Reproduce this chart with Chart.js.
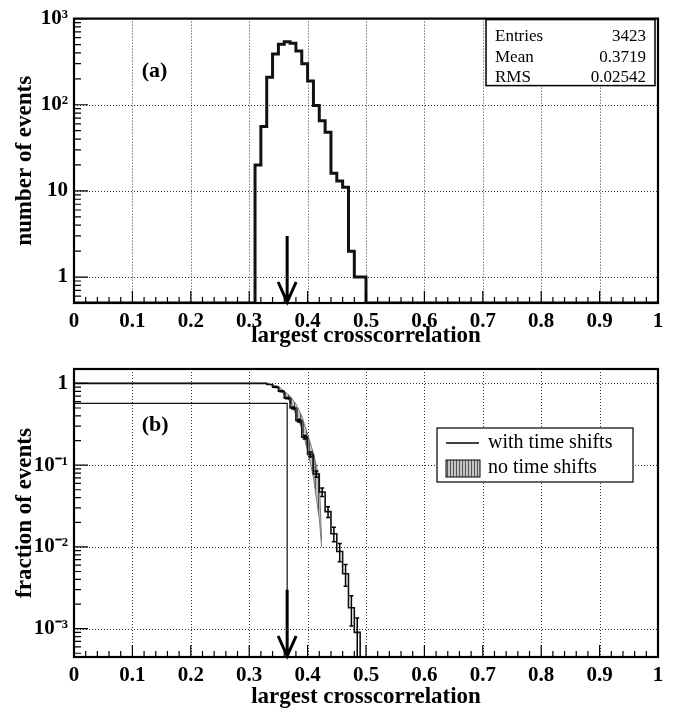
<!DOCTYPE html>
<html>
<head>
<meta charset="UTF-8">
<title>largest crosscorrelation</title>
<script src="https://cdn.jsdelivr.net/npm/chart.js@4.4.1/dist/chart.umd.min.js"></script>
<style>
  body { margin: 0; background: #fff; }
  #wrap { position: relative; width: 676px; height: 712px; }
  canvas { position: absolute; left: 0; }
</style>
</head>
<body>
<div id="wrap">
  <canvas id="topChart" width="676" height="350" style="top:0px"></canvas>
  <canvas id="botChart" width="676" height="367" style="top:345px"></canvas>
</div>
<script>
// shared x axis
var xTicks = [0, 0.1, 0.2, 0.3, 0.4, 0.5, 0.6, 0.7, 0.8, 0.9, 1];
var xTickLabels = ['0', '0.1', '0.2', '0.3', '0.4', '0.5', '0.6', '0.7', '0.8', '0.9', '1'];

// panel (a): histogram, 0.01 wide bins
var binLow = [0.31, 0.32, 0.33, 0.34, 0.35, 0.36, 0.37, 0.38, 0.39, 0.40,
              0.41, 0.42, 0.43, 0.44, 0.45, 0.46, 0.47, 0.48, 0.49];
var binHigh = 0.5;
var counts = [20, 56, 208, 388, 504, 540, 516, 422, 300, 189,
              98, 65, 48, 16, 13, 11, 2, 1, 1];
var topYTicks = [1, 10, 100, 1000];
var topYLabels = ['1', '10', '10²', '10³'];
var statNames = ['Entries', 'Mean', 'RMS'];
var statValues = ['3423', '0.3719', '0.02542'];
var cutX = 0.365;

// panel (b): fraction of events above x
var fracLow = [0, 0.33, 0.34, 0.35, 0.36, 0.37, 0.38, 0.39, 0.40, 0.41,
               0.42, 0.43, 0.44, 0.45, 0.46, 0.47, 0.48, 0.49];
var fracHigh = 0.5;
var withShift = [1, 0.97, 0.90, 0.80, 0.66, 0.50, 0.35, 0.22, 0.135, 0.078,
                 0.047, 0.027, 0.0145, 0.0088, 0.0047, 0.0018, 0.0009, 0.0003];
var withShiftErr = [0, 0, 0.01, 0.015, 0.02, 0.03, 0.04, 0.05, 0.07, 0.09,
                    0.12, 0.15, 0.2, 0.25, 0.3, 0.4, 0.5, 0];
var bandX = [0, 0.33, 0.35, 0.37, 0.38, 0.39, 0.40, 0.41, 0.42, 0.424];
var bandHi = [1, 1, 0.92, 0.70, 0.56, 0.40, 0.24, 0.14, 0.07, 0.012];
var bandLo = [1, 1, 0.88, 0.60, 0.42, 0.28, 0.15, 0.07, 0.022, 0.010];
var cutFrac = 0.57;
var botYTicks = [0.001, 0.01, 0.1, 1];
var botYLabels = ['10⁻³', '10⁻²', '10⁻¹', '1'];

var topYMin = 0.5, topYMax = 1000;
var botYMin = 4.5e-4, botYMax = 1.5;

Chart.defaults.font.family = "'Liberation Serif', 'Times New Roman', serif";
Chart.defaults.color = '#000';

function makeHatch(ctx) {
    var c = document.createElement('canvas');
    c.width = 3; c.height = 3;
    var g = c.getContext('2d');
    g.fillStyle = '#c4c4c4';
    g.fillRect(0, 0, 3, 3);
    g.fillStyle = '#555';
    g.fillRect(0, 0, 1, 3);
    return ctx.createPattern(c, 'repeat');
}

// ROOT-like frame: dotted grid, inward ticks, arrow, labels, boxes
var rootStyle = {
    id: 'rootStyle',
    beforeDatasetsDraw: function (chart, args, o) {
        var ctx = chart.ctx, a = chart.chartArea, xs = chart.scales.x, ys = chart.scales.y;
        ctx.save();
        ctx.strokeStyle = '#333';
        ctx.lineWidth = 1;
        ctx.setLineDash([1, 2]);
        ctx.beginPath();
        xTicks.forEach(function (v) {
            var px = Math.round(xs.getPixelForValue(v)) + 0.5;
            if (px < a.left + 3 || px > a.right - 3) return;
            ctx.moveTo(px, a.top); ctx.lineTo(px, a.bottom);
        });
        o.yTicks.forEach(function (v) {
            var py = Math.round(ys.getPixelForValue(v)) + 0.5;
            if (py < a.top + 3 || py > a.bottom - 3) return;
            ctx.moveTo(a.left, py); ctx.lineTo(a.right, py);
        });
        ctx.stroke();
        ctx.restore();
    },
    afterDatasetsDraw: function (chart, args, o) {
        var ctx = chart.ctx, a = chart.chartArea, xs = chart.scales.x, ys = chart.scales.y;
        ctx.save();
        ctx.strokeStyle = '#000';
        ctx.fillStyle = '#000';

        // error bars
        if (o.errors) {
            ctx.lineWidth = 1.5;
            ctx.beginPath();
            fracLow.forEach(function (lo, i) {
                var e = withShiftErr[i];
                if (!e) return;
                var hi = i + 1 < fracLow.length ? fracLow[i + 1] : fracHigh;
                var px = xs.getPixelForValue((lo + hi) / 2);
                var y1 = ys.getPixelForValue(withShift[i] * (1 + e));
                var y2 = ys.getPixelForValue(withShift[i] * (1 - e));
                ctx.moveTo(px, y1); ctx.lineTo(px, y2);
                ctx.moveTo(px - 2, y1); ctx.lineTo(px + 2, y1);
                ctx.moveTo(px - 2, y2); ctx.lineTo(px + 2, y2);
            });
            ctx.stroke();
        }

        // ticks on x
        ctx.lineWidth = 1.2;
        ctx.beginPath();
        for (var k = 0; k <= 50; k++) {
            var px = xs.getPixelForValue(k / 50);
            var len = k % 5 === 0 ? 12 : 6;
            ctx.moveTo(px, a.bottom); ctx.lineTo(px, a.bottom - len);
        }
        // ticks on y
        var d0 = Math.floor(Math.log10(ys.min)), d1 = Math.ceil(Math.log10(ys.max));
        for (var d = d0; d <= d1; d++) {
            for (var m = 1; m <= 9; m++) {
                var v = m * Math.pow(10, d);
                if (v < ys.min || v > ys.max) continue;
                var py = ys.getPixelForValue(v);
                ctx.moveTo(a.left, py); ctx.lineTo(a.left + (m === 1 ? 14 : 7), py);
            }
        }
        ctx.stroke();

        // frame
        ctx.lineWidth = 2.2;
        ctx.strokeRect(a.left, a.top, a.width, a.height);

        // arrow at the cut
        var ax = xs.getPixelForValue(cutX);
        var ay1 = ys.getPixelForValue(o.arrowFrom);
        var ay2 = a.bottom - 1;
        ctx.lineWidth = 3;
        ctx.beginPath();
        ctx.moveTo(ax, ay1); ctx.lineTo(ax, ay2);
        ctx.moveTo(ax - 9, ay2 - 20); ctx.lineTo(ax, ay2); ctx.lineTo(ax + 9, ay2 - 20);
        ctx.stroke();

        // panel label
        ctx.font = 'bold 22px "Liberation Serif", serif';
        ctx.textAlign = 'left';
        ctx.textBaseline = 'middle';
        ctx.fillText(o.label, xs.getPixelForValue(o.labelX), ys.getPixelForValue(o.labelY));

        // statistics box
        if (o.stats) {
            var bw = 169, bh = 66;
            var br = a.right - 3, bl = br - bw, bt = a.top + 1;
            ctx.fillStyle = '#fff';
            ctx.fillRect(bl, bt, bw, bh);
            ctx.lineWidth = 1.5;
            ctx.strokeRect(bl, bt, bw, bh);
            ctx.fillStyle = '#000';
            ctx.font = '17px "Liberation Serif", serif';
            statNames.forEach(function (n, i) {
                var ty = bt + 17 + i * 20.5;
                ctx.textAlign = 'left';
                ctx.fillText(n, bl + 9, ty);
                ctx.textAlign = 'right';
                ctx.fillText(statValues[i], br - 9, ty);
            });
        }

        // legend box
        if (o.legend) {
            var lw = 196, lh = 54;
            var ll = a.right - 221, lt = a.top + 59;
            ctx.fillStyle = '#fff';
            ctx.fillRect(ll, lt, lw, lh);
            ctx.lineWidth = 1.2;
            ctx.strokeRect(ll, lt, lw, lh);
            ctx.lineWidth = 1.5;
            ctx.beginPath();
            ctx.moveTo(ll + 9, lt + 15); ctx.lineTo(ll + 42, lt + 15);
            ctx.stroke();
            ctx.fillStyle = makeHatch(ctx);
            ctx.fillRect(ll + 9, lt + 32, 34, 17);
            ctx.lineWidth = 1;
            ctx.strokeRect(ll + 9, lt + 32, 34, 17);
            ctx.fillStyle = '#000';
            ctx.font = '20px "Liberation Serif", serif';
            ctx.textAlign = 'left';
            ctx.fillText('with time shifts', ll + 51, lt + 15);
            ctx.fillText('no time shifts', ll + 51, lt + 40);
        }
        ctx.restore();
    }
};

function xScale(h, titlePad) {
    return {
        type: 'linear', min: 0, max: 1,
        grid: { display: false, drawTicks: false },
        border: { display: false },
        afterBuildTicks: function (s) { s.ticks = xTicks.map(function (v) { return { value: v }; }); },
        ticks: {
            autoSkip: false, maxRotation: 0, padding: 6, color: '#000',
            font: { size: 21, weight: 'bold' },
            callback: function (v, i) { return xTickLabels[i]; }
        },
        title: {
            display: true, text: 'largest crosscorrelation', color: '#000',
            font: { size: 23, weight: 'bold' },
            padding: { top: 0, bottom: titlePad }
        },
        afterFit: function (s) { s.height = h; }
    };
}

function yScale(min, max, tickVals, tickLabels, title) {
    return {
        type: 'logarithmic', min: min, max: max,
        grid: { display: false, drawTicks: false },
        border: { display: false },
        afterBuildTicks: function (s) { s.ticks = tickVals.map(function (v) { return { value: v }; }); },
        ticks: {
            autoSkip: false, padding: 6, color: '#000',
            font: { size: 21, weight: 'bold' },
            callback: function (v, i) { return tickLabels[i]; }
        },
        title: {
            display: true, text: title, color: '#000',
            font: { size: 23, weight: 'bold' },
            padding: { top: 11, bottom: 0 }
        },
        afterFit: function (s) { s.width = 74; }
    };
}

// panel (a)
var histPts = [{ x: 0, y: topYMin }];
binLow.forEach(function (x, i) { histPts.push({ x: x, y: counts[i] }); });
histPts.push({ x: binHigh, y: topYMin }, { x: 1, y: topYMin });

new Chart(document.getElementById('topChart'), {
    type: 'line',
    data: {
        datasets: [{
            data: histPts,
            stepped: 'before',
            borderColor: '#111',
            borderWidth: 3,
            pointRadius: 0,
            fill: false
        }]
    },
    options: {
        responsive: false,
        animation: false,
        layout: { padding: { left: 0, right: 18, top: 13, bottom: 0 } },
        scales: {
            x: xScale(47, 0),
            y: yScale(topYMin, topYMax, topYTicks, topYLabels, 'number of events')
        },
        plugins: {
            legend: { display: false },
            tooltip: { enabled: false },
            rootStyle: { yTicks: topYTicks, arrowFrom: 3, label: '(a)', labelX: 0.116, labelY: 243, stats: true }
        }
    },
    plugins: [rootStyle]
});

// panel (b)
var withPts = fracLow.map(function (x, i) { return { x: x, y: withShift[i] }; });
withPts.push({ x: fracHigh, y: withShift[withShift.length - 1] });
var cutPts = [{ x: 0, y: cutFrac }, { x: cutX, y: cutFrac }, { x: cutX, y: botYMin }];
var hiPts = bandX.map(function (x, i) { return { x: x, y: bandHi[i] }; });
var loPts = bandX.map(function (x, i) { return { x: x, y: bandLo[i] }; });
var botCtx = document.getElementById('botChart').getContext('2d');

new Chart(botCtx, {
    type: 'line',
    data: {
        datasets: [
            { data: withPts, stepped: 'before', borderColor: '#111', borderWidth: 1.6, pointRadius: 0, fill: false },
            { data: cutPts, borderColor: '#111', borderWidth: 1.2, pointRadius: 0, fill: false },
            { data: hiPts, borderColor: '#666', borderWidth: 0.8, pointRadius: 0, fill: false },
            { data: loPts, borderColor: '#666', borderWidth: 0.8, pointRadius: 0, fill: '-1', backgroundColor: makeHatch(botCtx) }
        ]
    },
    options: {
        responsive: false,
        animation: false,
        layout: { padding: { left: 0, right: 18, top: 24, bottom: 0 } },
        scales: {
            x: xScale(55, 1),
            y: yScale(botYMin, botYMax, botYTicks, botYLabels, 'fraction of events')
        },
        plugins: {
            legend: { display: false },
            tooltip: { enabled: false },
            rootStyle: { yTicks: botYTicks, arrowFrom: 0.003, label: '(b)', labelX: 0.116, labelY: 0.31, legend: true, errors: true }
        }
    },
    plugins: [rootStyle]
});
</script>
</body>
</html>
